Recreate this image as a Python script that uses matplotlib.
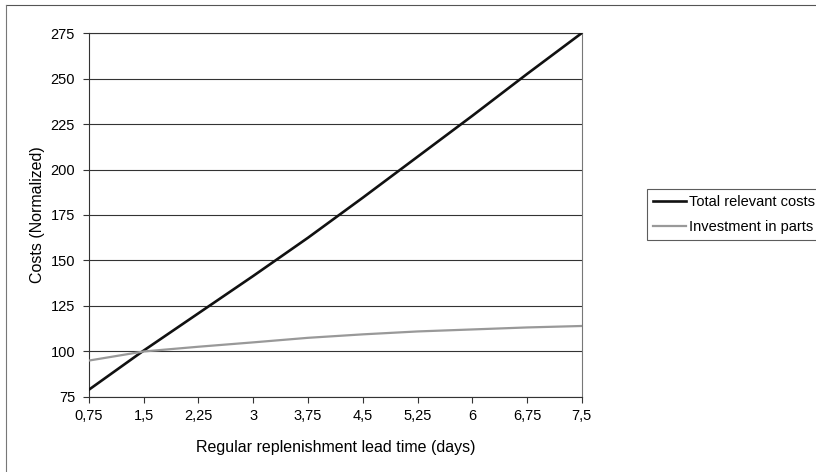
import matplotlib
matplotlib.use("Agg")
import matplotlib.pyplot as plt
from matplotlib.lines import Line2D

plt.rcParams["font.family"] = ["Liberation Sans", "DejaVu Sans"]

# lead time categories (days) and normalized cost series
lead_time = [0.75, 1.5, 2.25, 3, 3.75, 4.5, 5.25, 6, 6.75, 7.5]
lead_labels = ["0,75", "1,5", "2,25", "3", "3,75", "4,5", "5,25", "6", "6,75", "7,5"]
total_costs = [79, 100.5, 121, 141.5, 162.5, 184.5, 207, 229.5, 252.5, 275]
investment = [95, 100, 102.6, 105, 107.5, 109.4, 111, 112.1, 113.2, 114]
y_ticks = [75, 100, 125, 150, 175, 200, 225, 250, 275]

fig = plt.figure(figsize=(8.16, 4.72), dpi=100)
ax = fig.add_axes([0.109, 0.159, 0.604, 0.771])

ax.plot(lead_time, total_costs, color="#111111", lw=1.9,
        label="Total relevant costs", zorder=3)
ax.plot(lead_time, investment, color="#999999", lw=1.6,
        label="Investment in parts", zorder=3)

ax.set_xlim(lead_time[0], lead_time[-1])
ax.set_ylim(y_ticks[0], y_ticks[-1])
ax.set_xticks(lead_time)
ax.set_xticklabels(lead_labels)
ax.set_yticks(y_ticks)
ax.yaxis.grid(True, color="#333333", lw=0.8)
ax.set_axisbelow(True)

for side in ("left", "bottom", "right", "top"):
    ax.spines[side].set_color("#333333")
    ax.spines[side].set_linewidth(0.8)
ax.spines["right"].set_color("#777777")

ax.tick_params(axis="both", direction="out", length=4, width=0.8,
               color="#333333", labelsize=10.5)
ax.tick_params(axis="x", pad=5)
ax.tick_params(axis="y", pad=6)

ax.set_ylabel("Costs (Normalized)", fontsize=11.5, labelpad=4)
ax.set_xlabel("Regular replenishment lead time (days)", fontsize=11.5, labelpad=12)

leg = ax.legend(loc="upper left", bbox_to_anchor=(647 / 816, 1 - 189 / 472),
                bbox_transform=fig.transFigure, fontsize=10.5, frameon=True,
                fancybox=False, edgecolor="#333333", handlelength=2.3,
                handletextpad=0.15, borderpad=0.4, labelspacing=0.75,
                borderaxespad=0)
leg.get_frame().set_linewidth(0.8)

# outer chart frame (top and left edges)
fig.add_artist(Line2D([0.007, 1.0], [0.989, 0.989], transform=fig.transFigure,
                      color="#555555", lw=0.8))
fig.add_artist(Line2D([0.007, 0.007], [0.0, 0.989], transform=fig.transFigure,
                      color="#777777", lw=0.8))

fig.savefig("out.png", dpi=100)
